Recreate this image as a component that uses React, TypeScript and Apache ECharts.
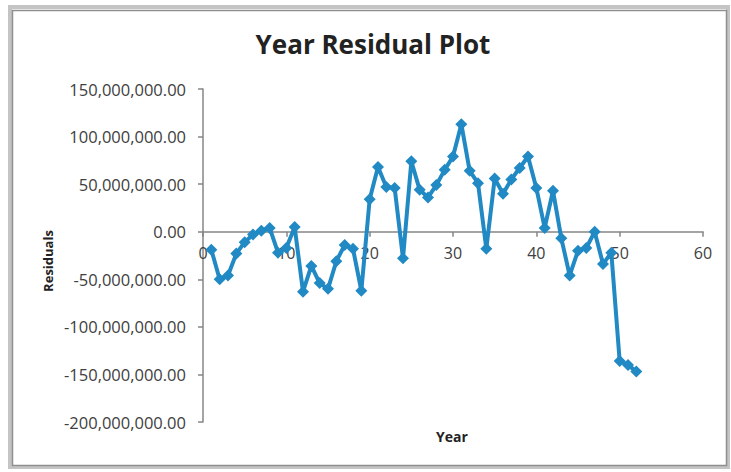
import React, { useEffect, useRef } from "react";
import * as echarts from "echarts";

const years: number[] = [
  1, 2, 3, 4, 5, 6, 7, 8, 9, 10, 11, 12, 13, 14, 15, 16, 17, 18, 19, 20, 21, 22, 23, 24, 25, 26,
  27, 28, 29, 30, 31, 32, 33, 34, 35, 36, 37, 38, 39, 40, 41, 42, 43, 44, 45, 46, 47, 48, 49, 50,
  51, 52,
];
// residuals in millions
const residualsM: number[] = [
  -19, -50, -46, -23, -11, -3, 1, 4, -22, -17, 5, -63, -36, -54, -60, -31, -14, -18, -62, 34, 68,
  47, 46, -28, 74, 44, 36, 49, 65, 79, 113, 64, 51, -18, 56, 40, 55, 67, 79, 46, 4, 43, -7, -46,
  -20, -17, 0, -34, -22, -136, -140, -147,
];

const titleText = "Year Residual Plot";
const xName = "Year";
const yName = "Residuals";

const FONT = "'Open Sans', 'DejaVu Sans', sans-serif";

function fmt(v: number): string {
  return v.toLocaleString("en-US", { minimumFractionDigits: 2, maximumFractionDigits: 2 });
}

export default function App() {
  const ref = useRef<HTMLDivElement>(null);
  useEffect(() => {
    if (!ref.current) return;
    const chart = echarts.init(ref.current, undefined, { renderer: "svg" });
    const data = years.map((y, i) => [y, residualsM[i] * 1e6]);
    const gridTop = 89;
    const gridBottom = 50;
    const gridH = 472 - gridTop - gridBottom;
    const yMin = -200e6;
    const yMax = 150e6;
    const zeroOffset = -(gridH * (0 - yMin)) / (yMax - yMin);
    chart.setOption({
      animation: false,
      backgroundColor: "#ffffff",
      title: {
        text: titleText,
        left: 368,
        top: 26,
        textAlign: "center",
        textStyle: { fontFamily: FONT, fontSize: 26, fontWeight: "bold", color: "#222222" },
      },
      grid: { left: 203, right: 28, top: gridTop, bottom: gridBottom, containLabel: false },
      xAxis: {
        type: "value",
        position: "bottom",
        offset: zeroOffset,
        min: 0,
        max: 60,
        interval: 10,
        axisLine: { show: true, onZero: false, lineStyle: { color: "#868686", width: 1.5 } },
        axisTick: { show: true, inside: false, length: 5, lineStyle: { color: "#868686", width: 1.5 } },
        axisLabel: { margin: 13, fontFamily: FONT, fontSize: 16, color: "#404040" },
        splitLine: { show: false },
      },
      yAxis: {
        type: "value",
        min: yMin,
        max: yMax,
        interval: 50e6,
        axisLine: { show: true, lineStyle: { color: "#868686", width: 1.5 } },
        axisTick: { show: true, inside: false, length: 5, lineStyle: { color: "#868686", width: 1.5 } },
        axisLabel: {
          margin: 17,
          fontFamily: FONT,
          fontSize: 16.5,
          color: "#404040",
          formatter: (v: number) => fmt(v),
        },
        splitLine: { show: false },
      },
      series: [
        {
          type: "line",
          data,
          lineStyle: { color: "#2189c3", width: 4 },
          itemStyle: { color: "#2189c3" },
          symbol: "diamond",
          symbolSize: 12,
          showAllSymbol: true,
        },
      ],
      graphic: [
        {
          type: "rect",
          shape: { x: 10, y: 7, width: 718, height: 460 },
          style: { fill: "none", stroke: "#c4c4c4", lineWidth: 4 },
          silent: true,
        },
        {
          type: "rect",
          shape: { x: 12.5, y: 10.5, width: 714, height: 455 },
          style: { fill: "none", stroke: "#8f8f8f", lineWidth: 1.5 },
          silent: true,
        },
        {
          type: "text",
          x: 452,
          y: 436,
          style: {
            text: xName,
            fontFamily: FONT,
            fontSize: 14,
            fontWeight: "bold",
            fill: "#222222",
            align: "center",
            verticalAlign: "middle",
          },
        },
        {
          type: "text",
          x: 48,
          y: 261,
          rotation: Math.PI / 2,
          style: {
            text: yName,
            fontFamily: FONT,
            fontSize: 13,
            fontWeight: "bold",
            fill: "#222222",
            align: "center",
            verticalAlign: "middle",
          },
        },
      ],
    });
    return () => chart.dispose();
  }, []);
  return (
    <div
      ref={ref}
      style={{ position: "fixed", left: 0, top: 0, width: 731, height: 472, background: "#fff" }}
    />
  );
}
